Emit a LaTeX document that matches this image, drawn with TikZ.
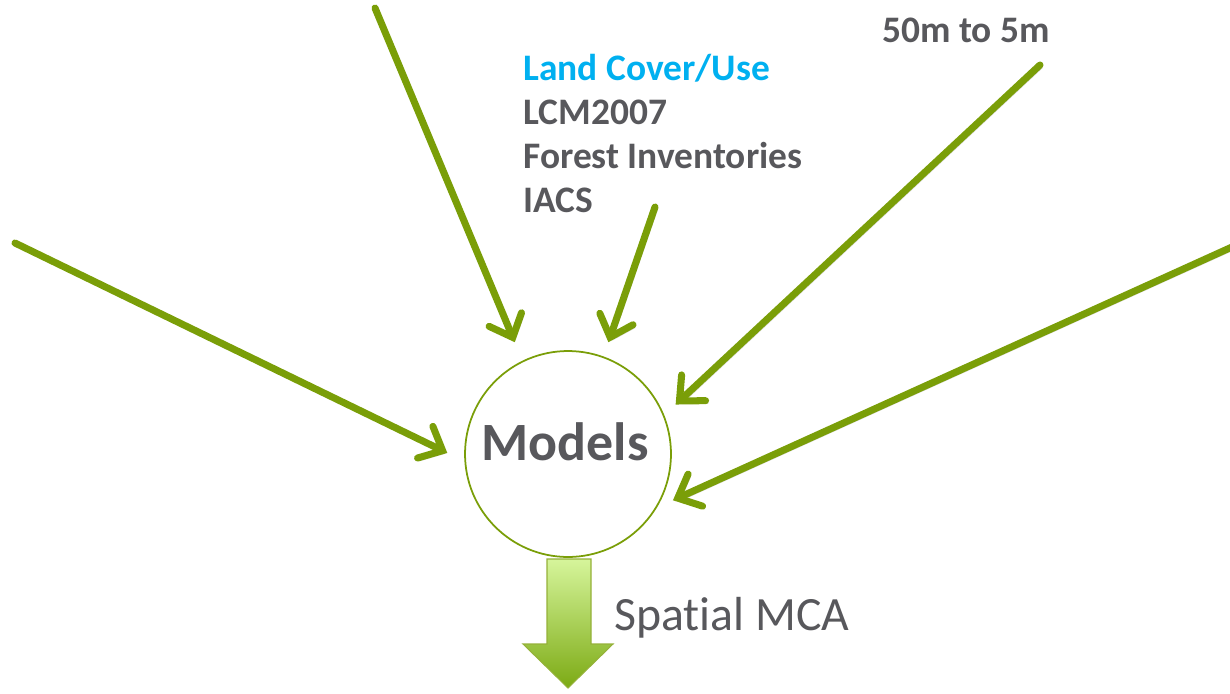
\documentclass[tikz,border=0pt]{standalone}
\usepackage{fontspec}
\setmainfont[Ligatures=NoCommon]{Carlito}
\usetikzlibrary{arrows.meta, positioning}
\definecolor{leafGreen}{RGB}{122,158,8}
\definecolor{lightGreen}{RGB}{214,245,155}
\definecolor{darkGreen}{RGB}{124,170,20}
\definecolor{headBlue}{RGB}{0,176,240}
\definecolor{textGray}{RGB}{88,88,92}

\begin{document}
\begin{tikzpicture}[x=0.02cm, y=-0.02cm,
    feed/.style={draw=leafGreen, line width=4pt, line cap=round,
        -{Straight Barb[length=11pt, width=20pt, line cap=round]},
        preaction={draw=black!14, transform canvas={shift={(1.4pt,-1.6pt)}}}},
    src/.style={font=\bfseries\fontsize{21.3}{25}\selectfont, text=textGray, inner sep=0pt, align=left}]
    \useasboundingbox (0,0) rectangle (1230,693);

    % the model circle
    \node[circle, draw=leafGreen, line width=1pt, fill=white, minimum size=4.12cm] (models) at (568,454) {};
    \node[anchor=base, font=\bfseries\fontsize{30.7}{35}\selectfont, text=textGray] (modelstext) at (565,460) {Models};

    % data sources
    \node[src, anchor=base west] (landcover) at (523,212) {\textcolor{headBlue}{Land Cover/Use}\\LCM2007\\Forest Inventories\\IACS};
    \node[src, anchor=base west] (resolution) at (882,42) {50m to 5m};

    % arrow tails
    \coordinate (inA) at (375,8);
    \coordinate (inB) at (655,207);
    \coordinate (inC) at (1040,65);
    \coordinate (inD) at (15,243);
    \coordinate (inE) at (1232,247);

    \draw[feed, shorten >=0.40cm] (inA) -- (models.116);
    \draw[feed, shorten >=0.30cm] (inB) -- (models.70);
    \draw[feed, shorten >=0.31cm] (inC) -- (models.22);
    \draw[feed, shorten >=0.38cm] (inD) -- (models.184);
    \draw[feed, shorten >=0.35cm] (inE) -- (models.329);

    % output arrow
    \draw[draw=leafGreen!80, line width=0.6pt, top color=lightGreen, bottom color=darkGreen]
        (547,559) -- (591,559) -- (591,644) -- (613,644) -- (568,688) -- (523,644) -- (547,644) -- cycle;
    \node[anchor=base west, font=\fontsize{27.2}{32}\selectfont, text=textGray, inner sep=0pt] (mca) at (614,630) {Spatial MCA};
\end{tikzpicture}
\end{document}
